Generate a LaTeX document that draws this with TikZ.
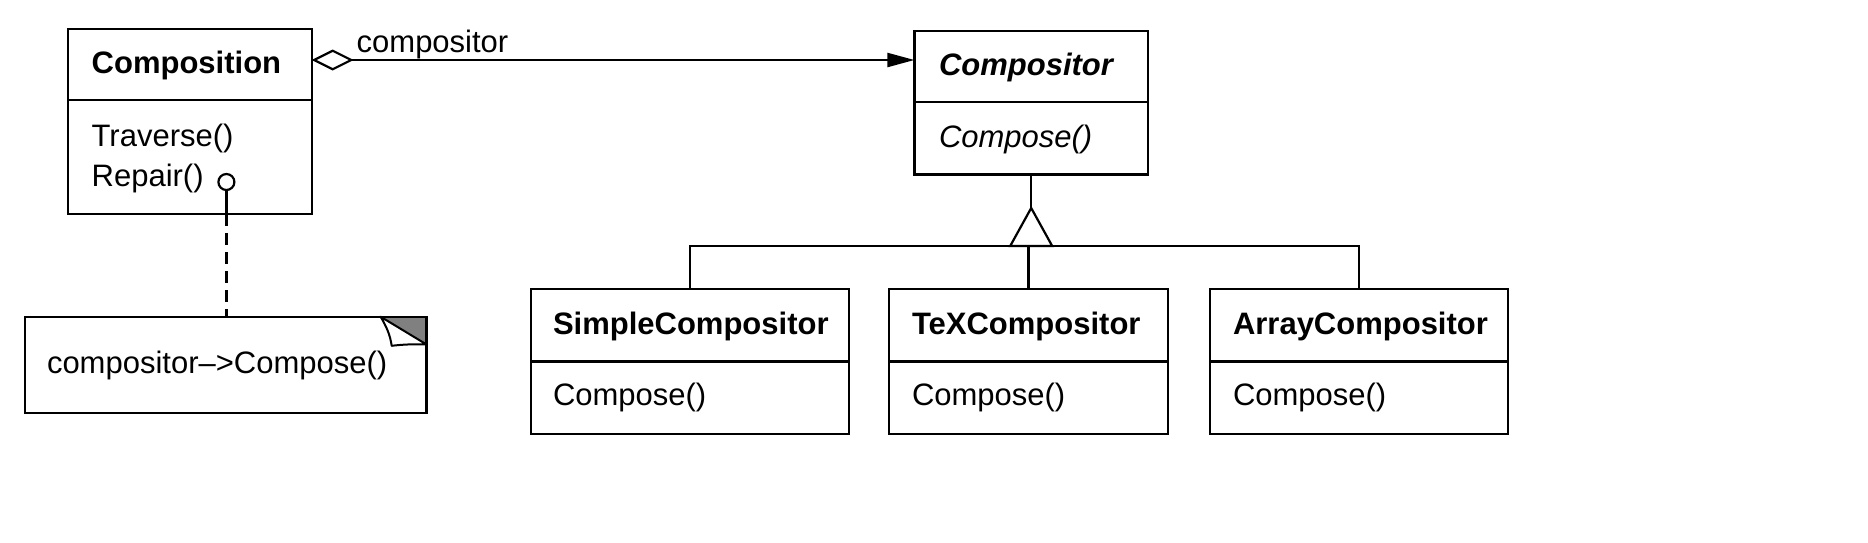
\documentclass[tikz,border=0pt]{standalone}
\usepackage{fontspec}
\setmainfont{Liberation Sans}
\usetikzlibrary{arrows.meta}
\begin{document}
\begin{tikzpicture}[x=1pt,y=-1pt,line width=2.2pt,
  box/.style={draw, line width=2.2pt, inner sep=0pt, outer sep=0pt, anchor=north west},
  lbl/.style={inner sep=0pt, outer sep=0pt, anchor=base west, font=\fontsize{31}{37}\selectfont},
  cname/.style={lbl, font=\fontsize{31}{37}\selectfont\bfseries},
  absname/.style={lbl, font=\fontsize{31}{37}\selectfont\bfseries\itshape},
  absop/.style={lbl, font=\fontsize{31}{37}\selectfont\itshape}]
\useasboundingbox (0,0) rectangle (1868,542);

% Composition
\node[box, minimum width=243.7pt, minimum height=185.4pt] (comp) at (68,28.6) {};
\draw (comp.west |- 0,100) -- (comp.east |- 0,100);
\node[cname] (compname) at (91.7,73.6) {Composition};
\node[lbl] (trav) at (91.7,146) {Traverse()};
\node[lbl] (rep) at (91.7,186) {Repair()};
\node[circle, draw, minimum size=16pt, inner sep=0pt, outer sep=0pt] (pin) at (226.4,182) {};

% Note
\node[box, minimum width=401.4pt, minimum height=96.3pt] (note) at (25,316.7) {};
\fill[black!50] (380.6,316.7) -- (426.4,316.7) -- (426.4,344.4) -- cycle;
\draw[fill=white, line width=2pt, line join=round] (380.6,316.7) .. controls (386,326) and (390,334) .. (391.7,345.8)
   .. controls (402,344.5) and (414,344) .. (426.4,344.4) -- cycle;
\draw (note.north west) rectangle (note.south east);
\node[lbl] (notetext) at (47,373) {compositor–>Compose()};

\draw (pin.south) -- (pin.south |- comp.south);
\draw[dash pattern=on 12pt off 7pt] (pin.south |- comp.south) -- (pin.south |- note.north);

% Compositor
\node[box, minimum width=233.6pt, minimum height=143.8pt] (cmp) at (914.4,30.6) {};
\draw (cmp.west |- 0,102) -- (cmp.east |- 0,102);
\node[absname] (cmpname) at (939,75) {Compositor};
\node[absop] (cmpop) at (939,147) {Compose()};

% association
\draw[{Diamond[open,length=42pt,width=21pt]}-{Triangle[length=27pt,width=14pt]}] (comp.east |- 0,60) -- (cmp.west |- 0,60);
\node[lbl] (assoc) at (356.7,52) {compositor};

% subclasses
\node[box, minimum width=318pt, minimum height=145pt] (simple) at (531,289) {};
\draw (simple.west |- 0,361.5) -- (simple.east |- 0,361.5);
\node[cname] (simplename) at (553,334.7) {SimpleCompositor};
\node[lbl] (simpleop) at (553,405.6) {Compose()};

\node[box, minimum width=279pt, minimum height=145pt] (tex) at (889,289) {};
\draw (tex.west |- 0,361.5) -- (tex.east |- 0,361.5);
\node[cname] (texname) at (912,334.7) {TeXCompositor};
\node[lbl] (texop) at (912,405.6) {Compose()};

\node[box, minimum width=298.6pt, minimum height=145pt] (array) at (1209.7,289) {};
\draw (array.west |- 0,361.5) -- (array.east |- 0,361.5);
\node[cname] (arrayname) at (1233,334.7) {ArrayCompositor};
\node[lbl] (arrayop) at (1233,405.6) {Compose()};

% inheritance
\coordinate (apex) at (cmp.south |- 0,208);
\draw (cmp.south) -- (apex);
\draw (simple.north) -- (simple.north |- 0,246) -- (array.north |- 0,246) -- (array.north);
\draw (tex.north |- 0,246) -- (tex.north);
\draw[fill=white, line join=miter] (apex) -- ++(21,38) -- ++(-42,0) -- cycle;
\end{tikzpicture}
\end{document}
